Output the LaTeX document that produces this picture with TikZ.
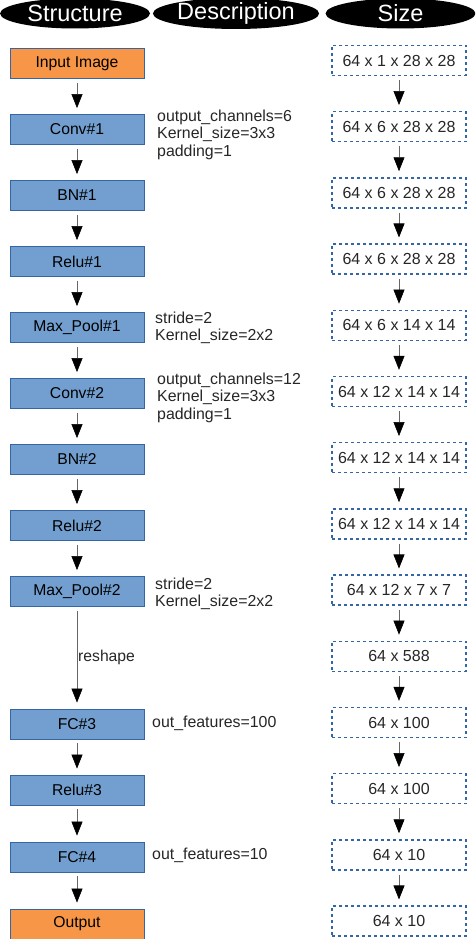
\documentclass[tikz,border=0pt]{standalone}
\usepackage{fontspec}
\setmainfont{Liberation Sans}
\usetikzlibrary{arrows.meta,shapes.geometric}
\definecolor{boxorange}{RGB}{247,150,70}
\definecolor{boxblue}{RGB}{114,159,207}
\definecolor{edgeblue}{RGB}{52,101,164}
\tikzset{
  header/.style={ellipse,fill=black,text=white,minimum width=150pt,minimum height=30pt,inner sep=0pt,font=\fontsize{23.5}{25}\selectfont},
  layer/.style={draw=edgeblue,line width=0.8pt,minimum width=134pt,minimum height=30pt,inner sep=0pt,font=\fontsize{15.7}{17}\selectfont},
  bluebox/.style={layer,fill=boxblue},
  orangebox/.style={layer,fill=boxorange},
  sizebox/.style={draw=edgeblue,line width=1.3pt,dash pattern=on 3pt off 3pt,minimum width=134pt,minimum height=30pt,inner sep=0pt,font=\fontsize{16}{17}\selectfont,text=black!85},
  desc/.style={anchor=west,align=left,inner sep=0pt,font=\fontsize{15.9}{17.5}\selectfont,text=black!85},
  flow/.style={draw=black!60,line width=0.6pt,-{Triangle[length=14pt,width=11pt,color=black]},shorten <=4pt,shorten >=6pt}
}
\begin{document}
\begin{tikzpicture}[x=1pt,y=-1pt]
\useasboundingbox (0,0) rectangle (475,939);
\clip (0,0) rectangle (475,939);
% headers
\node[header] (hs) at (75,13.5) {Structure};
\node[header,minimum width=148pt] (hd) at (236,13.5) {Description};
\node[header] (hz) at (400.5,13.5) {Size};
% structure column
\node[orangebox] (l0) at (77,63.5) {Input Image};
\node[bluebox] (l1) at (77,129.5) {Conv\#1};
\node[bluebox] (l2) at (77,195.5) {BN\#1};
\node[bluebox] (l3) at (77,261.5) {Relu\#1};
\node[bluebox] (l4) at (77,327.5) {Max\_Pool\#1};
\node[bluebox] (l5) at (77,393.5) {Conv\#2};
\node[bluebox] (l6) at (77,459.5) {BN\#2};
\node[bluebox] (l7) at (77,525.5) {Relu\#2};
\node[bluebox] (l8) at (77,591.5) {Max\_Pool\#2};
\node[bluebox] (l9) at (77,724) {FC\#3};
\node[bluebox] (l10) at (77,790) {Relu\#3};
\node[bluebox] (l11) at (77,857) {FC\#4};
\node[orangebox] (l12) at (77,924) {Output};
\foreach \a/\b in {l0/l1,l1/l2,l2/l3,l3/l4,l4/l5,l5/l6,l6/l7,l7/l8,l8/l9,l9/l10,l10/l11,l11/l12}
  \draw[flow] (\a) -- (\b);
\path (l8) -- node[pos=0.5,right=1pt,inner sep=0pt,font=\fontsize{15.7}{17}\selectfont,text=black!85] (rs) {reshape} (l9);
% descriptions
\node[desc] (d1) at (157,134.5) {output\_channels=6\\Kernel\_size=3x3\\padding=1};
\node[desc] (d4) at (155,328) {stride=2\\Kernel\_size=2x2};
\node[desc] (d5) at (157,397.5) {output\_channels=12\\Kernel\_size=3x3\\padding=1};
\node[desc] (d8) at (155,594) {stride=2\\Kernel\_size=2x2};
\node[desc] (d9) at (152,723) {out\_features=100};
\node[desc] (d11) at (152,855.5) {out\_features=10};
% size column
\foreach \i/\t in {0/{64 x 1 x 28 x 28},1/{64 x 6 x 28 x 28},2/{64 x 6 x 28 x 28},3/{64 x 6 x 28 x 28},4/{64 x 6 x 14 x 14},5/{64 x 12 x 14 x 14},6/{64 x 12 x 14 x 14},7/{64 x 12 x 14 x 14},8/{64 x 12 x 7 x 7},9/{64 x 588},10/{64 x 100},11/{64 x 100},12/{64 x 10},13/{64 x 10}}
  \node[sizebox] (s\i) at (399,60.5+66.2*\i) {\t};
\foreach \i [evaluate=\i as \j using int(\i+1)] in {0,...,12}
  \draw[flow] (s\i) -- (s\j);
\end{tikzpicture}
\end{document}
